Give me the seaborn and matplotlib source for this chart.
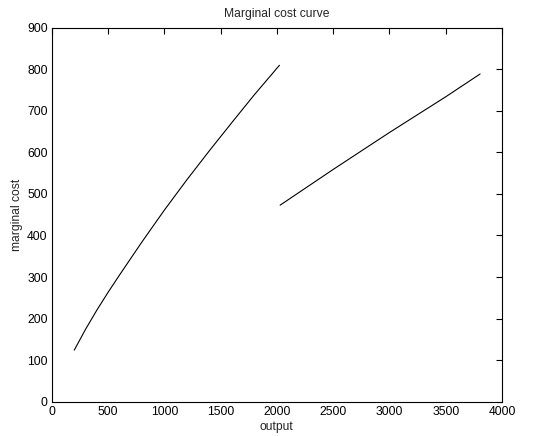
import seaborn as sns
import matplotlib.pyplot as plt
import pandas as pd

# curve values
output_low = [200, 300, 400, 500, 600, 800, 1000, 1200, 1400, 1600, 1800, 2023]
mc_low = [124, 174, 220, 263, 304, 384, 461, 534, 604, 672, 739, 810]
output_high = [2029, 2500, 3000, 3500, 3806]
mc_high = [473, 559, 648, 734, 789]

sns.set_style("white")
plt.rcParams['font.family'] = ['Liberation Sans', 'DejaVu Sans']

df = pd.concat([
    pd.DataFrame({"output": output_low, "mc": mc_low, "seg": "a"}),
    pd.DataFrame({"output": output_high, "mc": mc_high, "seg": "b"}),
])

fig = plt.figure(figsize=(5.45, 4.36), dpi=100)
ax = fig.add_axes([0.095, 0.079, 0.826, 0.857])
for seg, d in df.groupby("seg"):
    sns.lineplot(data=d, x="output", y="mc", color="black", linewidth=0.8,
                 sort=False, estimator=None, ax=ax)

ax.set_xlim(0, 4000)
ax.set_ylim(0, 900)
ax.set_xticks(range(0, 4001, 500))
ax.set_yticks(range(0, 901, 100))
ax.tick_params(direction="in", top=True, right=True, length=4, width=0.8,
               labelsize=8.7, pad=3, colors="black")
for s in ax.spines.values():
    s.set_color("black")
    s.set_linewidth(0.8)
ax.set_xlabel("output", fontsize=8.7, labelpad=2)
ax.set_ylabel("marginal cost", fontsize=8.7, labelpad=3)
ax.set_title("Marginal cost curve", fontsize=8.7, pad=8)

fig.savefig("out.png", dpi=100)
